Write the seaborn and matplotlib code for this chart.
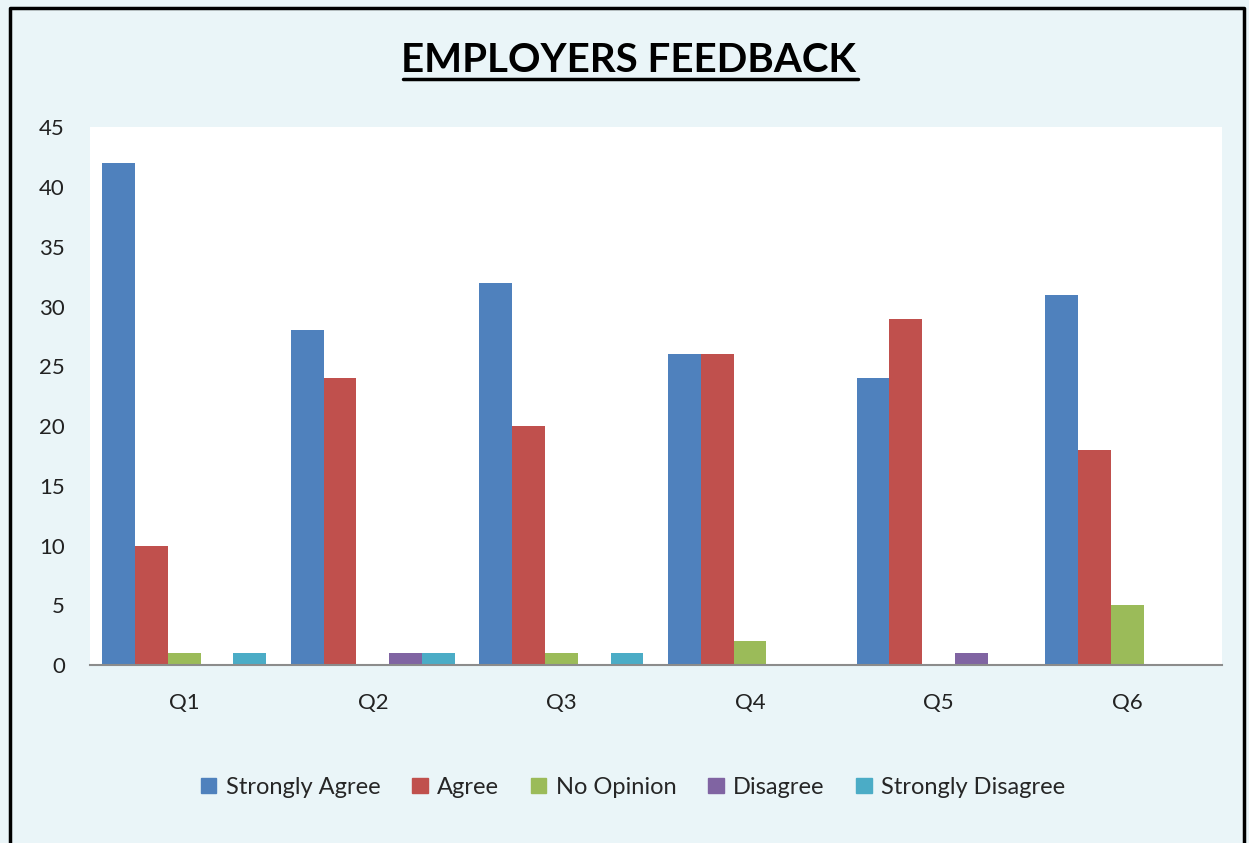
import pandas as pd
import matplotlib
matplotlib.use('Agg')
import matplotlib.pyplot as plt
import seaborn as sns
from matplotlib.lines import Line2D

# data
questions = ["Q1", "Q2", "Q3", "Q4", "Q5", "Q6"]
responses = ["Strongly Agree", "Agree", "No Opinion", "Disagree", "Strongly Disagree"]
strongly_agree = [42, 28, 32, 26, 24, 31]
agree = [10, 24, 20, 26, 29, 18]
no_opinion = [1, 0, 1, 2, 0, 5]
disagree = [0, 1, 0, 0, 1, 0]
strongly_disagree = [1, 1, 1, 0, 0, 0]
colors = ["#4F81BD", "#C0504D", "#9BBB59", "#8064A2", "#4BACC6"]

series = [strongly_agree, agree, no_opinion, disagree, strongly_disagree]
rows = []
for resp, vals in zip(responses, series):
    for q, v in zip(questions, vals):
        rows.append({"question": q, "response": resp, "count": v})
df = pd.DataFrame(rows)

sns.set_style("white")
plt.rcParams['font.family'] = ['Lato', 'DejaVu Sans']

bg = "#EAF5F8"
fig = plt.figure(figsize=(12.49, 8.43), dpi=100, facecolor=bg)
ax = fig.add_axes([0.072, 0.211, 0.906, 0.638])
ax.set_facecolor("white")

sns.barplot(data=df, x="question", y="count", hue="response",
            hue_order=responses, order=questions, palette=colors,
            width=0.87, saturation=1, linewidth=0, ax=ax, legend=False)

ax.set_ylim(0, 45)
ax.set_yticks(range(0, 46, 5))
ax.set_xlabel("")
ax.set_ylabel("")
ax.tick_params(axis='both', length=0, labelsize=16, colors="#222222")
ax.tick_params(axis='y', pad=18)
ax.tick_params(axis='x', pad=20)
for side in ["top", "right", "left"]:
    ax.spines[side].set_visible(False)
ax.spines["bottom"].set_color("#8C8C8C")
ax.spines["bottom"].set_linewidth(1.5)

# title with underline
fig.text(0.503, 0.928, "EMPLOYERS FEEDBACK", ha="center", va="center",
         fontsize=29, fontweight="bold", color="black")
fig.add_artist(Line2D([0.323, 0.687], [0.906, 0.906], color="black", lw=2.5))

# legend at bottom
handles = [plt.Rectangle((0, 0), 1, 1, color=c) for c in colors]
fig.legend(handles, responses, loc="center", bbox_to_anchor=(0.507, 0.066),
           ncol=5, frameon=False, fontsize=17, handlelength=0.65,
           handleheight=0.65, handletextpad=0.4, columnspacing=1.35)

# frame around the chart (no bottom edge)
fig.add_artist(Line2D([0.008, 0.008, 0.996, 0.996], [0.0, 0.990, 0.990, 0.0],
                      color="black", lw=2.5))

plt.savefig("out.png", dpi=100, facecolor=bg)
plt.close()
